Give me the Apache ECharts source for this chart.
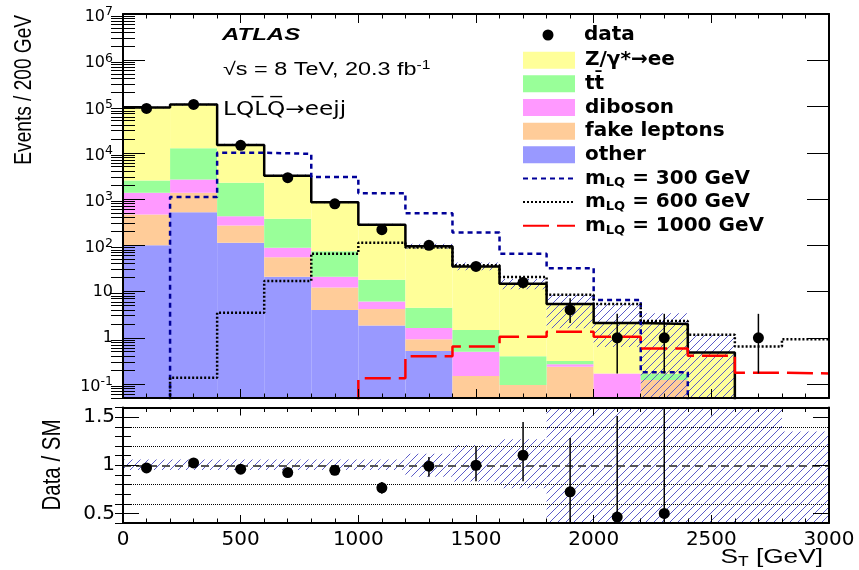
<!DOCTYPE html>
<html>
<head>
<meta charset="utf-8">
<script src="https://cdn.jsdelivr.net/npm/echarts@6/dist/echarts.min.js"></script>
<style>
  html, body { margin: 0; padding: 0; background: #fff; }
  #chart { width: 859px; height: 570px; }
</style>
</head>
<body>
<div id="chart"></div>
<script>
// S_T distribution for the LQLQ -> eejj selection, 200 GeV bins
const binEdges = [0, 200, 400, 600, 800, 1000, 1200, 1400, 1600, 1800, 2000, 2200, 2400, 2600, 2800, 3000];

// Background expectations (events per bin)
const bkgZ       = [92480, 97500, 12540, 2826, 776, 259, 91.5, 33.5, 14.4, 5.08, 1.93, 1.835, 0.48, 0, 0];
const bkgTtbar   = [1150, 9840, 1835, 286, 53, 11.9, 2.82, 0.98, 0.305, 0.049, 0, 0.043, 0, 0, 0];
const bkgDiboson = [907, 1290, 157, 33, 8.7, 1.9, 0.7, 0.351, 0, 0.03, 0.17, 0, 0, 0, 0];
const bkgFake    = [363, 850, 155, 34, 8.3, 2.36, 0.41, 0.149, 0.095, 0.237, 0, 0.122, 0, 0, 0];
const bkgOther   = [100, 520, 113, 21, 4.0, 1.84, 0.52, 0, 0, 0, 0, 0, 0, 0, 0];

// Relative systematic uncertainty on the total background
const bandUp   = [0.06, 0.06, 0.06, 0.06, 0.06, 0.06, 0.12, 0.21, 0.27, 0.6, 1.6, 0.7, 1.4, 1, 0.35];
const bandDown = [0.05, 0.05, 0.05, 0.05, 0.05, 0.05, 0.12, 0.17, 0.24, 0.7, 0.7, 1, 1, 1, 1];

// Observed data with asymmetric errors
const dataCounts  = [91000, 111000, 14500, 2900, 790, 218, 100, 35, 15.7, 4, 1, 1, null, 1, null];
const dataErrLow  = [300, 330, 120, 54, 28, 15, 10, 5.9, 4, 1.9, 0.83, 0.83, null, 0.83, null];
const dataErrHigh = [300, 330, 120, 54, 29, 16, 11, 7, 5, 3.2, 2.3, 2.3, null, 2.3, null];

// Signal hypotheses
const sigM300  = [0, 1100, 10000, 9500, 3000, 1340, 490, 190, 66, 32, 6.6, 0.18, 0, 0, 0];
const sigM600  = [0, 0.137, 3.5, 17, 66, 113, 90, 37, 20.6, 8.5, 5.4, 2.3, 1.16, 0.65, 0.93];
const sigM1000 = [0, 0, 0, 0, 0, 0.133, 0.40, 0.65, 1.06, 1.36, 1.06, 0.59, 0.41, 0.176, 0.17];

// Data / SM ratio
const ratioVals    = [0.972, 1.024, 0.959, 0.924, 0.948, 0.765, 0.99, 1.0, 1.104, 0.724, 0.462, 0.50, null, null, null];
const ratioErrLow  = [0.004, 0.004, 0.008, 0.017, 0.034, 0.06, 0.11, 0.166, 0.27, 0.4, 0.4, 0.42, null, null, null];
const ratioErrHigh = [0.004, 0.004, 0.008, 0.017, 0.034, 0.06, 0.097, 0.197, 0.345, 0.56, 1.05, 1.2, null, null, null];

// Axis ticks
const decadeTicks = [0.1, 1, 10, 100, 1e3, 1e4, 1e5, 1e6, 1e7];
const ratioMajorTicks = [0.5, 1, 1.5];
const ratioMinorTicks = [0.4, 0.5, 0.6, 0.7, 0.8, 0.9, 1.0, 1.1, 1.2, 1.3, 1.4, 1.5, 1.6];
const ratioDotted = [0.6, 0.8, 1.2, 1.4];

const Y_MIN = 0.05, Y_MAX = 1e7, Y_FLOOR = 1e-3;
const DJV = '"DejaVu Sans", sans-serif';
const SANS = '"Liberation Sans", Arial, sans-serif';

const binCenters = binEdges.slice(0, -1).map((e, i) => (e + binEdges[i + 1]) / 2);
const stackOrder = [bkgOther, bkgFake, bkgDiboson, bkgTtbar, bkgZ];
const totalSM = binCenters.map((_, i) => stackOrder.reduce((s, arr) => s + arr[i], 0));

const minorLogTicks = [];
decadeTicks.concat([0.01]).forEach(d => {
  for (let m = 2; m <= 9; m++) {
    const v = +(m * d).toPrecision(3);
    if (v >= Y_MIN && v <= Y_MAX) minorLogTicks.push(v);
  }
});

// Diagonal hatching used for the uncertainty bands
function makeHatch(color) {
  const c = document.createElement('canvas');
  c.width = 8; c.height = 8;
  const g = c.getContext('2d');
  g.strokeStyle = color;
  g.lineWidth = 1;
  g.beginPath();
  g.moveTo(0, 8); g.lineTo(8, 0);
  g.moveTo(-2, 2); g.lineTo(2, -2);
  g.moveTo(6, 10); g.lineTo(10, 6);
  g.stroke();
  return { image: c, repeat: 'repeat' };
}
const hatch = makeHatch('#5c5cc8');

function gridRect(params) {
  const cs = params.coordSys;
  return { x: cs.x, y: cs.y, width: cs.width, height: cs.height };
}
function boxItem(params, api, x0, x1, lo, hi, fill) {
  const p0 = api.coord([x0, hi]);
  const p1 = api.coord([x1, lo]);
  const shape = echarts.graphic.clipRectByRect(
    { x: p0[0], y: p0[1], width: p1[0] - p0[0], height: p1[1] - p0[1] }, gridRect(params));
  return shape && { type: 'rect', shape: shape, style: { fill: fill } };
}

function stackRender(level) {
  return function (params, api) {
    const i = params.dataIndex;
    const v = stackOrder[level][i];
    if (!(v > 0)) return null;
    let lo = 0;
    for (let k = 0; k < level; k++) lo += stackOrder[k][i];
    return boxItem(params, api, binEdges[i], binEdges[i + 1], lo > 0 ? lo : Y_FLOOR, lo + v, api.visual('color'));
  };
}

function errorBarRender(params, api) {
  const x = api.value(0), v = api.value(1);
  const a = api.coord([x, v + api.value(3)]);
  const b = api.coord([x, Math.max(v - api.value(2), Y_FLOOR)]);
  const pts = echarts.graphic.clipPointsByRect([a, b], gridRect(params));
  return { type: 'line', shape: { x1: pts[0][0], y1: pts[0][1], x2: pts[1][0], y2: pts[1][1] },
           style: { stroke: '#000', lineWidth: 1.5 } };
}

function stepData(vals) {
  const pts = vals.map((v, i) => [binEdges[i], v > 0 ? v : Y_FLOOR]);
  const last = vals[vals.length - 1];
  pts.push([binEdges[vals.length], last > 0 ? last : Y_FLOOR]);
  return pts;
}

const binData = binCenters.map((c, i) => [c, Math.max(totalSM[i], Y_FLOOR)]);
const stackNames = ['other', 'fake leptons', 'diboson', 't\u0074\u0304', 'Z/\u03b3*\u2192ee'];
const stackColors = ['#9999ff', '#ffcc99', '#ff99ff', '#99ff99', '#ffff99'];

const pointsWithErr = (vals, lo, hi) => vals.map((v, i) => v == null ? null : [binCenters[i], v, lo[i], hi[i]]).filter(Boolean);

const axisLineStyle = { show: true, onZero: false, lineStyle: { color: '#000', width: 2 } };

function xAxisFor(grid, pos, labels, major, minor) {
  return {
    type: 'value', gridIndex: grid, position: pos, min: 0, max: 3000, interval: 500, z: 10,
    axisLine: axisLineStyle,
    axisTick: { show: true, inside: true, length: major, lineStyle: { color: '#000', width: 1 } },
    minorTick: { show: true, splitNumber: 5, length: minor, lineStyle: { color: '#000', width: 1 } },
    axisLabel: labels ? { show: true, fontFamily: DJV, fontSize: 20, color: '#000', margin: 7,
                          formatter: v => String(v) } : { show: false },
    splitLine: { show: false }, minorSplitLine: { show: false }
  };
}
function logAxis(pos, ticks, len, withLabels) {
  const ax = {
    type: 'log', logBase: 10, gridIndex: 0, position: pos, min: Y_MIN, max: Y_MAX, z: 10,
    axisLine: withLabels !== null ? axisLineStyle : { show: false },
    axisTick: { show: true, inside: true, length: len, customValues: ticks, lineStyle: { color: '#000', width: 1 } },
    axisLabel: { show: false },
    splitLine: { show: false }
  };
  if (withLabels) {
    ax.axisLabel = {
      show: true, customValues: decadeTicks, margin: 10, color: '#000',
      formatter: v => {
        const e = Math.round(Math.log10(v));
        if (e === 0) return '{p|1}';
        if (e === 1) return '{p|10}';
        return '{m|10}{e|' + e + '}';
      },
      rich: {
        p: { fontFamily: DJV, fontSize: 16, color: '#000' },
        m: { fontFamily: DJV, fontSize: 16, color: '#000', padding: [6, 0, 0, 0] },
        e: { fontFamily: DJV, fontSize: 12.5, color: '#000', padding: [0, 0, 4, 0] }
      }
    };
  }
  return ax;
}
function ratioAxis(pos, ticks, len, withLabels) {
  const ax = {
    type: 'value', gridIndex: 1, position: pos, min: 0.4, max: 1.6, z: 10,
    axisLine: withLabels !== null ? axisLineStyle : { show: false },
    axisTick: { show: true, inside: true, length: len, customValues: ticks, lineStyle: { color: '#000', width: 1 } },
    axisLabel: { show: false },
    splitLine: { show: false }
  };
  if (withLabels) {
    ax.axisLabel = { show: true, customValues: ratioMajorTicks, margin: 8, color: '#000',
                     fontFamily: DJV, fontSize: 20, formatter: v => String(v) };
  }
  return ax;
}

const legendNames = {
  'data': '{d|data}',
  'Z/\u03b3*\u2192ee': '{f|Z/\u03b3*\u2192ee}',
  't\u0074\u0304': '{f|t\u0074\u0304}',
  'diboson': '{f|diboson}',
  'fake leptons': '{f|fake leptons}',
  'other': '{f|other}',
  'mLQ300': '{f|m}{s|LQ}{b| = 300 GeV}',
  'mLQ600': '{f|m}{s|LQ}{b| = 600 GeV}',
  'mLQ1000': '{f|m}{s|LQ}{b| = 1000 GeV}'
};
const legendRich = {
  d: { fontFamily: DJV, fontWeight: 'bold', fontSize: 20, lineHeight: 22, color: '#000', padding: [0, 0, 0, 25.5] },
  f: { fontFamily: DJV, fontWeight: 'bold', fontSize: 20, lineHeight: 22, color: '#000', padding: [0, 0, 0, 5] },
  b: { fontFamily: DJV, fontWeight: 'bold', fontSize: 20, lineHeight: 22, color: '#000' },
  s: { fontFamily: DJV, fontWeight: 'bold', fontSize: 13, lineHeight: 13, color: '#000', verticalAlign: 'bottom' }
};
// line entries show only the line sample
const lineLegendItem = name => ({ name: name, itemStyle: { color: 'rgba(0,0,0,0)', opacity: 0, borderWidth: 0 } });

const series = [];
stackNames.forEach((name, level) => {
  series.push({
    name: name, type: 'custom', xAxisIndex: 0, yAxisIndex: 0, z: 2,
    itemStyle: { color: stackColors[level] },
    renderItem: stackRender(level),
    encode: { x: 0, y: 1 }, data: binData
  });
});
series.push({
  type: 'custom', xAxisIndex: 0, yAxisIndex: 0, z: 3, silent: true,
  renderItem: (params, api) => {
    const i = params.dataIndex, t = totalSM[i];
    if (!(t > 0)) return null;
    const lo = t * (1 - bandDown[i]);
    return boxItem(params, api, binEdges[i], binEdges[i + 1], lo > 0 ? lo : Y_FLOOR, t * (1 + bandUp[i]), hatch);
  },
  encode: { x: 0, y: 1 }, data: binData
});
series.push({
  type: 'line', xAxisIndex: 0, yAxisIndex: 0, z: 4, step: 'end', symbol: 'none', silent: true,
  lineStyle: { color: '#000', width: 2.5 }, data: stepData(totalSM)
});
series.push({
  name: 'mLQ300', type: 'line', xAxisIndex: 0, yAxisIndex: 0, z: 5, step: 'end', symbol: 'none',
  itemStyle: { color: '#000099' }, lineStyle: { color: '#000099', width: 2.5, type: [5, 4] }, data: stepData(sigM300)
});
series.push({
  name: 'mLQ600', type: 'line', xAxisIndex: 0, yAxisIndex: 0, z: 5, step: 'end', symbol: 'none',
  itemStyle: { color: '#000' }, lineStyle: { color: '#000', width: 2.5, type: [2, 2] }, data: stepData(sigM600)
});
series.push({
  name: 'mLQ1000', type: 'line', xAxisIndex: 0, yAxisIndex: 0, z: 5, step: 'end', symbol: 'none',
  itemStyle: { color: '#ff0000' }, lineStyle: { color: '#ff0000', width: 2.5, type: [26, 8] }, data: stepData(sigM1000)
});
series.push({
  type: 'custom', xAxisIndex: 0, yAxisIndex: 0, z: 6, silent: true,
  renderItem: errorBarRender, encode: { x: 0, y: 1 },
  data: pointsWithErr(dataCounts, dataErrLow, dataErrHigh)
});
series.push({
  name: 'data', type: 'scatter', xAxisIndex: 0, yAxisIndex: 0, z: 7, symbol: 'circle', symbolSize: 11,
  itemStyle: { color: '#000', opacity: 1 },
  data: dataCounts.map((v, i) => v == null ? null : [binCenters[i], v]).filter(Boolean)
});

// Ratio panel
series.push({
  type: 'custom', xAxisIndex: 2, yAxisIndex: 4, z: 3, silent: true,
  renderItem: (params, api) => {
    const i = params.dataIndex;
    return boxItem(params, api, binEdges[i], binEdges[i + 1], 1 - bandDown[i], 1 + bandUp[i], hatch);
  },
  encode: { x: 0, y: 1 }, data: binCenters.map(c => [c, 1])
});
series.push({
  type: 'custom', xAxisIndex: 2, yAxisIndex: 4, z: 6, silent: true,
  renderItem: errorBarRender, encode: { x: 0, y: 1 },
  data: pointsWithErr(ratioVals, ratioErrLow, ratioErrHigh)
});
series.push({
  type: 'scatter', xAxisIndex: 2, yAxisIndex: 4, z: 7, symbol: 'circle', symbolSize: 11,
  itemStyle: { color: '#000', opacity: 1 }, silent: true,
  data: ratioVals.map((v, i) => v == null ? null : [binCenters[i], v]).filter(Boolean),
  markLine: {
    silent: true, symbol: ['none', 'none'], label: { show: false }, animation: false,
    data: ratioDotted.map(v => ({ yAxis: v, lineStyle: { type: 'dotted', color: '#000', width: 1 } }))
      .concat([{ yAxis: 1, lineStyle: { type: [8, 5], color: '#555', width: 2 } }])
  }
});

const option = {
  animation: false,
  backgroundColor: '#fff',
  grid: [
    { left: 123, top: 14, width: 706, height: 384 },
    { left: 123, top: 407.5, width: 706, height: 115.5 }
  ],
  xAxis: [
    xAxisFor(0, 'bottom', false, 9, 4.5),
    xAxisFor(0, 'top', false, 9, 4.5),
    xAxisFor(1, 'bottom', true, 8, 4.5),
    xAxisFor(1, 'top', false, 8, 4.5)
  ],
  yAxis: [
    logAxis('left', decadeTicks, 22, true),
    logAxis('left', minorLogTicks, 12, null),
    logAxis('right', decadeTicks, 22, false),
    logAxis('right', minorLogTicks, 12, null),
    ratioAxis('left', ratioMajorTicks, 16, true),
    ratioAxis('left', ratioMinorTicks, 8, null),
    ratioAxis('right', ratioMajorTicks, 16, false),
    ratioAxis('right', ratioMinorTicks, 8, null)
  ],
  legend: [
    {
      orient: 'vertical', left: 542.5, top: 24, padding: 0, itemWidth: 11, itemHeight: 11,
      selectedMode: false, icon: 'circle', data: ['data'],
      formatter: n => legendNames[n], textStyle: { rich: legendRich, lineHeight: 22 }
    },
    {
      orient: 'vertical', left: 522, top: 49.2, padding: 0, itemWidth: 52, itemHeight: 17, itemGap: 1.65,
      selectedMode: false, itemStyle: { borderWidth: 0 },
      data: [
        { name: 'Z/\u03b3*\u2192ee', icon: 'rect' },
        { name: 't\u0074\u0304', icon: 'rect' },
        { name: 'diboson', icon: 'rect' },
        { name: 'fake leptons', icon: 'rect' },
        { name: 'other', icon: 'rect' },
        lineLegendItem('mLQ300'), lineLegendItem('mLQ600'), lineLegendItem('mLQ1000')
      ],
      formatter: n => legendNames[n], textStyle: { rich: legendRich, lineHeight: 22 }
    }
  ],
  graphic: [
    { type: 'text', x: 222, y: 36, scaleX: 1.5, silent: true,
      style: { text: 'ATLAS', font: 'italic bold 16px ' + SANS, fill: '#000', verticalAlign: 'middle' } },
    { type: 'text', x: 223, y: 70, scaleX: 1.3, silent: true,
      style: { text: '{n|\u221As = 8 TeV, 20.3 fb}{s|-1}', verticalAlign: 'middle', fill: '#000',
               rich: { n: { fontFamily: SANS, fontSize: 18, lineHeight: 20 },
                       s: { fontFamily: SANS, fontSize: 12, lineHeight: 12, verticalAlign: 'top' } } } },
    { type: 'text', x: 223, y: 110, scaleX: 1.22, silent: true,
      style: { text: 'LQL\u0305Q\u0305\u2192eejj', font: '19px ' + DJV, fill: '#000', verticalAlign: 'middle' } },
    { type: 'text', x: 25, y: 15, rotation: Math.PI / 2, scaleX: 0.83, silent: true,
      style: { text: 'Events / 200 GeV', font: '23px ' + SANS, fill: '#000', align: 'right', verticalAlign: 'middle' } },
    { type: 'text', x: 53, y: 465, rotation: Math.PI / 2, scaleX: 0.82, silent: true,
      style: { text: 'Data / SM', font: '25px ' + SANS, fill: '#000', align: 'center', verticalAlign: 'middle' } },
    { type: 'text', x: 823, y: 557, scaleX: 1.25, silent: true,
      style: { text: '{a|S}{b|T}{a| [GeV]}', align: 'right', verticalAlign: 'middle', fill: '#000',
               rich: { a: { fontFamily: SANS, fontSize: 21, lineHeight: 24 },
                       b: { fontFamily: SANS, fontSize: 14, lineHeight: 14, verticalAlign: 'bottom' } } } }
  ],
  series: series
};

const chart = echarts.init(document.getElementById('chart'), null, { renderer: 'canvas' });
chart.setOption(option);
</script>
</body>
</html>
